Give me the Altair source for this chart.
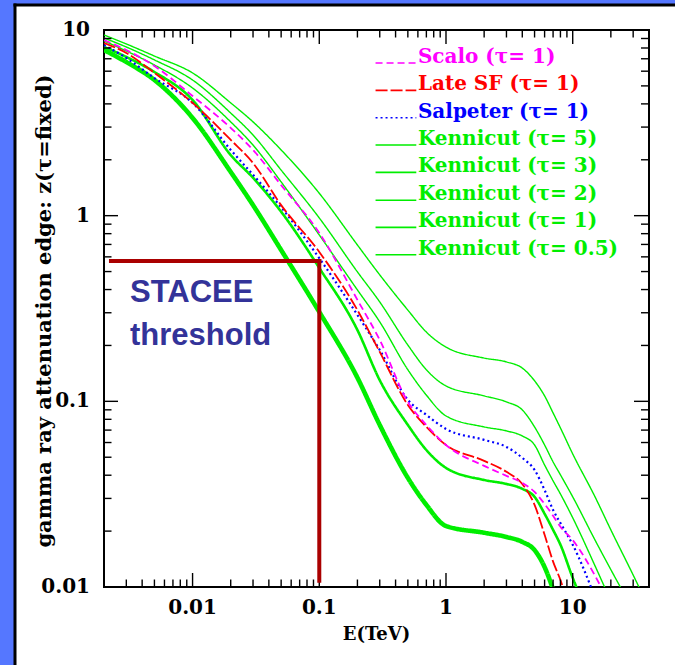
import altair as alt
import pandas as pd

# ---------------- data ----------------
E_TEV = [0.002, 0.003, 0.005, 0.01, 0.02, 0.03, 0.05, 0.1, 0.2, 0.3, 0.5, 0.7,
         1, 2, 3, 4, 5, 6, 7, 8, 10, 15, 20, 30, 40]

SCALO = [8.83, 7.80, 6.40, 4.41, 2.97, 2.26, 1.46, 0.807, 0.352, 0.214, 0.0993, 0.0746,
         0.0582, 0.0449, 0.0397, 0.0364, 0.0325, 0.0280, 0.0242, 0.0211, 0.0179, 0.0115, 0.0078, None, None]
LATE_SF = [8.51, 7.52, 5.87, 4.05, 2.56, 1.92, 1.14, 0.637, 0.310, 0.1845, 0.0956, 0.0728,
           0.0582, 0.0478, 0.0417, 0.0359, 0.0277, 0.0191, 0.0137, 0.0109, 0.0067, None, None, None, None]
SALPETER = [8.30, 7.07, 5.51, 4.05, 2.26, 1.66, 1.11, 0.59, 0.292, 0.189, 0.1018, 0.0845,
            0.0710, 0.0620, 0.0568, 0.0496, 0.0427, 0.0333, 0.0260, 0.0221, 0.0169, 0.0088, None, None, None]
KENN_5 = [9.40, 8.41, 7.24, 5.87, 4.05, 3.20, 2.26, 1.32, 0.695, 0.480, 0.310, 0.236,
          0.196, 0.171, 0.163, 0.151, 0.129, 0.107, 0.0866, 0.0719, 0.0521, 0.0306, 0.0203, 0.0116, 0.0077]
KENN_3 = [9.06, 8.10, 6.90, 5.38, 3.57, 2.72, 1.76, 0.972, 0.498, 0.343, 0.201, 0.148,
          0.121, 0.107, 0.0993, 0.0899, 0.0728, 0.0582, 0.0472, 0.0402, 0.0306, 0.0179, 0.0124, 0.0075, None]
KENN_2 = [8.73, 7.71, 6.48, 4.87, 3.20, 2.40, 1.52, 0.787, 0.398, 0.268, 0.148, 0.108,
          0.0834, 0.0728, 0.0693, 0.0651, 0.0582, 0.0454, 0.0373, 0.0317, 0.0236, 0.0130, 0.0084, None, None]
KENN_1 = [8.10, 7.16, 5.94, 4.20, 2.12, 1.60, 1.05, 0.523, 0.242, 0.130, 0.0746, 0.0547,
          0.0438, 0.0377, 0.0359, 0.0338, 0.0306, 0.0248, 0.0203, 0.0169, 0.0112, 0.0059, None, None, None]
KENN_05 = [7.80, 6.72, 5.38, 3.36, 1.72, 1.14, 0.653, 0.303, 0.134, 0.0746, 0.0387, 0.0277,
           0.0213, 0.0196, 0.0186, 0.0175, 0.0158, 0.0128, 0.0097, 0.0073, None, None, None, None, None]

LABELS = ["Scalo (τ= 1)", "Late SF (τ= 1)", "Salpeter (τ= 1)", "Kennicut (τ= 5)",
          "Kennicut (τ= 3)", "Kennicut (τ= 2)", "Kennicut (τ= 1)", "Kennicut (τ= 0.5)"]
CURVES = [SCALO, LATE_SF, SALPETER, KENN_5, KENN_3, KENN_2, KENN_1, KENN_05]

# legend placement in data units
LEGEND_Z = [6.64, 4.73, 3.37, 2.40, 1.71, 1.21, 0.865, 0.616]
LEGEND_E_LINE = [0.278, 0.583]
LEGEND_E_TEXT = [0.60]

X_MAJOR = [0.01, 0.1, 1, 10]
X_LABELS = ["0.01", "0.1", "1", "10"]
X_MINOR = [0.003, 0.004, 0.005, 0.006, 0.007, 0.008, 0.009,
           0.02, 0.03, 0.04, 0.05, 0.06, 0.07, 0.08, 0.09,
           0.2, 0.3, 0.4, 0.5, 0.6, 0.7, 0.8, 0.9,
           2, 3, 4, 5, 6, 7, 8, 9, 20, 30]
Y_LABEL_VALUES = [0.01, 0.1, 1, 10]
Y_LABELS = ["0.01", "0.1", "1", "10"]
Y_MAJOR = [0.1, 1]
Y_MINOR = [0.02, 0.03, 0.04, 0.05, 0.06, 0.07, 0.08, 0.09,
           0.2, 0.3, 0.4, 0.5, 0.6, 0.7, 0.8, 0.9,
           2, 3, 4, 5, 6, 7, 8, 9]
X_TITLE = ["E(TeV)"]
Y_TITLE = ["gamma ray attenuation edge: z(τ=fixed)"]

THRESH_E = [0.00227, 0.1]
THRESH_Z = [0.0108, 0.57]
THRESH_TEXT = ["STACEE\nthreshold"]

# ---------------- styles ----------------
GREEN = "#00ee00"
BLUE_BG = "#5577ff"
COLORS = ["#ff00ff", "#ff0000", "#0000ff", GREEN, GREEN, GREEN, GREEN, GREEN]
DASHES = [[7, 4], [12, 3], [2, 3], [1, 0], [1, 0], [1, 0], [1, 0], [1, 0]]
WIDTHS = [1.8, 1.8, 2.2, 1.4, 1.4, 1.4, 2.6, 4.6]

W, H = 545, 557
SERIF = "DejaVu Serif"

xs = alt.Scale(type="log", domain=[0.002, 40], nice=False)
ys = alt.Scale(type="log", domain=[0.01, 10], nice=False)

one = pd.DataFrame({"k": [0]})

# curves
curves = []
order = [7, 6, 3, 4, 5, 2, 1, 0]
for i in order:
    df = pd.DataFrame({"E": E_TEV, "z": CURVES[i]}).dropna()
    curves.append(
        alt.Chart(df).mark_line(color=COLORS[i], strokeDash=DASHES[i], strokeWidth=WIDTHS[i],
                                clip=True, interpolate="monotone").encode(
            x=alt.X("E:Q", scale=xs, axis=None),
            y=alt.Y("z:Q", scale=ys, axis=None))
    )

# slide decoration: blue strips at left/top and the black border of the white panel
strip_left = alt.Chart(one).mark_rect(color=BLUE_BG).encode(
    x=alt.value(-110), x2=alt.value(-89), y=alt.value(-40), y2=alt.value(H + 120))
strip_top = alt.Chart(one).mark_rect(color=BLUE_BG).encode(
    x=alt.value(-110), x2=alt.value(W + 60), y=alt.value(-40), y2=alt.value(-25))
border_left = alt.Chart(one).mark_rule(color="black", strokeWidth=3).encode(
    x=alt.value(-89), y=alt.value(-26.5), y2=alt.value(H + 120))
border_top = alt.Chart(one).mark_rule(color="black", strokeWidth=3).encode(
    x=alt.value(-90.5), x2=alt.value(W + 60), y=alt.value(-25))


def xticks(vals, y0, y1):
    return alt.Chart(pd.DataFrame({"v": vals})).mark_rule(color="black", strokeWidth=1.4).encode(
        x=alt.X("v:Q", scale=xs, axis=None), y=alt.value(y0), y2=alt.value(y1))


def yticks(vals, x0, x1):
    return alt.Chart(pd.DataFrame({"v": vals})).mark_rule(color="black", strokeWidth=1.4).encode(
        y=alt.Y("v:Q", scale=ys, axis=None), x=alt.value(x0), x2=alt.value(x1))


ticks = [
    xticks(X_MAJOR, H, H - 14), xticks(X_MINOR, H, H - 7.5),
    xticks(X_MAJOR, 0, 14), xticks(X_MINOR, 0, 7.5),
    yticks(Y_MAJOR, 0, 14), yticks(Y_MINOR, 0, 7.5),
    yticks(Y_MAJOR, W, W - 15), yticks(Y_MINOR, W, W - 8),
]

# axis labels and titles as text marks
xlab = alt.Chart(pd.DataFrame({"v": X_MAJOR, "t": X_LABELS})).mark_text(
    font=SERIF, fontSize=20, fontWeight="bold", color="black", align="center",
    baseline="middle").encode(
    x=alt.X("v:Q", scale=xs, axis=None), y=alt.value(H + 21), text="t:N")
ylab = alt.Chart(pd.DataFrame({"v": Y_LABEL_VALUES, "t": Y_LABELS})).mark_text(
    font=SERIF, fontSize=20, fontWeight="bold", color="black", align="right",
    baseline="middle").encode(
    y=alt.Y("v:Q", scale=ys, axis=None), x=alt.value(-14), text="t:N")
xtitle = alt.Chart(pd.DataFrame({"t": X_TITLE})).mark_text(
    font=SERIF, fontSize=18, fontWeight="bold", color="black", align="center",
    baseline="middle").encode(x=alt.value(W / 2), y=alt.value(H + 48), text="t:N")
ytitle = alt.Chart(pd.DataFrame({"t": Y_TITLE})).mark_text(
    font=SERIF, fontSize=21, fontWeight="bold", color="black", align="center",
    baseline="middle", angle=270).encode(x=alt.value(-59), y=alt.value(281), text="t:N")

thr_df = pd.DataFrame({
    "E": [THRESH_E[0], THRESH_E[1]], "E2": [THRESH_E[1], THRESH_E[1]],
    "z": [THRESH_Z[1], THRESH_Z[0]], "z2": [THRESH_Z[1], THRESH_Z[1]]})
threshold = alt.Chart(thr_df).mark_rule(color="#aa0000", strokeWidth=4, strokeCap="square").encode(
    x=alt.X("E:Q", scale=xs, axis=None), x2="E2:Q",
    y=alt.Y("z:Q", scale=ys, axis=None), y2="z2:Q")

stacee = alt.Chart(pd.DataFrame({"t": THRESH_TEXT})).mark_text(
    align="left", baseline="alphabetic", lineBreak="\n", lineHeight=43,
    font="Liberation Sans", fontWeight="bold", fontSize=31, color="#333399").encode(
    x=alt.value(26), y=alt.value(272), text="t:N")

# legend drawn inside the plot
leg_df = pd.DataFrame({"label": LABELS, "z": LEGEND_Z,
                       "e0": LEGEND_E_LINE[0], "e1": LEGEND_E_LINE[1], "et": LEGEND_E_TEXT[0]})
col = alt.Color("label:N", scale=alt.Scale(domain=LABELS, range=COLORS), legend=None)
leg_lines = alt.Chart(leg_df).mark_rule(strokeWidth=1.6).encode(
    x=alt.X("e0:Q", scale=xs, axis=None), x2="e1:Q",
    y=alt.Y("z:Q", scale=ys, axis=None),
    color=col,
    strokeDash=alt.StrokeDash("label:N", scale=alt.Scale(domain=LABELS, range=DASHES), legend=None))
leg_text = alt.Chart(leg_df).mark_text(align="left", baseline="alphabetic", font=SERIF,
                                       fontSize=20, fontWeight="bold").encode(
    x=alt.X("et:Q", scale=xs, axis=None), y=alt.Y("z:Q", scale=ys, axis=None),
    text="label:N", color=col)

chart = alt.layer(*curves, strip_left, strip_top, border_left, border_top, *ticks,
                  xlab, ylab, xtitle, ytitle,
                  threshold, stacee, leg_lines, leg_text).properties(
    width=W, height=H,
    padding={"left": 104, "top": 30, "right": 26, "bottom": 78},
    autosize=alt.AutoSizeParams(type="none"),
    background="white",
).configure_view(stroke="black", strokeWidth=2)

chart.save("out.html", embed_options={"renderer": "svg", "actions": False})
